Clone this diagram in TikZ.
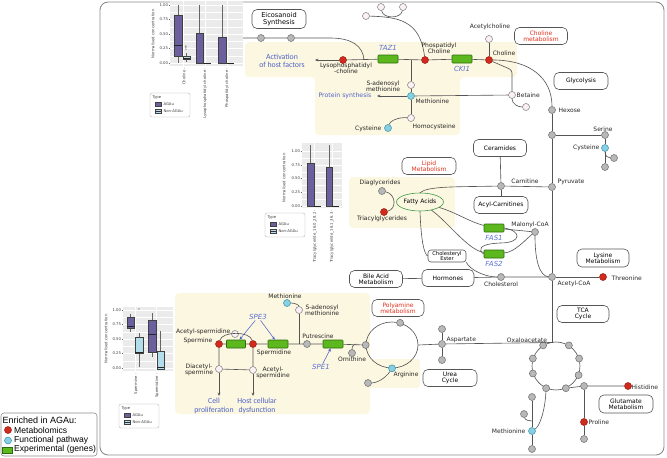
\documentclass[tikz,border=0pt]{standalone}
\usepackage{fontspec}
\setmainfont{DejaVu Sans}
\newfontfamily\libsans{Liberation Sans}
\newfontfamily\carlito{Carlito}
\usetikzlibrary{arrows.meta,shapes.geometric}
\definecolor{lncol}{HTML}{555555}
\definecolor{framecol}{HTML}{8C8C8C}
\definecolor{yel}{HTML}{FCF7E1}
\definecolor{metred}{HTML}{D22A1C}
\definecolor{metredd}{HTML}{8E1A10}
\definecolor{funcblue}{HTML}{86D0E3}
\definecolor{funcblued}{HTML}{3C8CA6}
\definecolor{pinkw}{HTML}{FAF0F5}
\definecolor{pinkd}{HTML}{7A7A7A}
\definecolor{dotgray}{HTML}{B8B8B8}
\definecolor{dotgrayd}{HTML}{6A6A6A}
\definecolor{genegreen}{HTML}{5CB81C}
\definecolor{genegreend}{HTML}{2D6A0E}
\definecolor{genelab}{HTML}{5B70D2}
\definecolor{bluelab}{HTML}{4F63C8}
\definecolor{redlab}{HTML}{E5301C}
\definecolor{fagreen}{HTML}{3E9A4A}
\definecolor{agau}{HTML}{6B5F9E}
\definecolor{nagau}{HTML}{B3DDEB}
\definecolor{panel}{HTML}{EBEBEB}
\definecolor{boxcol}{HTML}{555555}
\begin{document}
\begin{tikzpicture}[x=1pt,y=-1pt,
 ln/.style={draw=lncol,line width=0.62pt},
 arr/.style={ln,-{Stealth[length=3.4pt,width=2.8pt]}},
 barr/.style={draw=bluelab,line width=0.55pt,-{Stealth[length=3.4pt,width=2.8pt]}},
 dotbase/.style={circle,inner sep=0pt,minimum size=7pt,line width=0.5pt},
 metab/.style={dotbase,fill=metred,draw=metredd},
 func/.style={dotbase,fill=funcblue,draw=funcblued},
 pdot/.style={dotbase,fill=pinkw,draw=pinkd},
 gdot/.style={dotbase,fill=dotgray,draw=dotgrayd},
 gene/.style={rectangle,fill=genegreen,draw=genegreend,line width=0.55pt,minimum width=20pt,minimum height=8pt,inner sep=0pt,rounded corners=0.8pt},
 pbox/.style={draw=boxcol,line width=0.6pt,rounded corners=5pt,fill=white,align=center,inner sep=1pt,font=\fontsize{6}{6.4}\selectfont},
 rbox/.style={pbox,text=redlab},
 lbl/.style={font=\fontsize{6}{6.3}\selectfont,inner sep=0.5pt,align=center,text=black!85},
 gl/.style={font=\fontsize{7}{7}\selectfont\itshape,text=genelab,inner sep=0.5pt},
 bl/.style={font=\carlito\fontsize{7.8}{8.2}\selectfont,text=bluelab,align=center,inner sep=0.5pt},
 tk/.style={font=\fontsize{3.8}{4}\selectfont,inner sep=0.3pt,text=black!75},
 whisk/.style={draw=black!60,line width=0.4pt},
 bxa/.style={fill=agau,draw=black!75,line width=0.35pt},
 bxn/.style={fill=nagau,draw=black!75,line width=0.35pt},
 med/.style={draw=black!85,line width=0.7pt},
 grid/.style={draw=white,line width=0.5pt},
 lgbox/.style={draw=black!35,line width=0.3pt,rounded corners=2pt},
]
\useasboundingbox (0,0) rectangle (667,458);

% ---------- yellow regions ----------
\fill[yel,rounded corners=4pt] (245,42) -- (517,42) -- (517,77) -- (460,77) -- (460,135) -- (315,135) -- (315,77) -- (245,77) -- cycle;
\fill[yel,rounded corners=4pt] (349,177) rectangle (455,228);
\fill[yel,rounded corners=4pt] (175,293) rectangle (370,414);
\fill[yel,rounded corners=3pt] (363,359) rectangle (420,388);

% ---------- main frame ----------
\draw[framecol,line width=0.9pt,rounded corners=8pt] (100,2) rectangle (664,455);

% ---------- boxes ----------
\node[pbox,minimum width=54pt,minimum height=19pt,font=\fontsize{6.6}{7}\selectfont] (eico) at (279,19) {Eicosanoid\\Synthesis};
\node[rbox,minimum width=53pt,minimum height=17pt] (cholmet) at (541,36) {Choline\\metabolism};
\node[pbox,minimum width=54pt,minimum height=17pt] (glyc) at (581,81) {Glycolysis};
\node[pbox,minimum width=53pt,minimum height=17pt] (ceram) at (500,148) {Ceramides};
\node[pbox,minimum width=54pt,minimum height=17pt] (acyl) at (501,205) {Acyl-Carnitines};
\node[rbox,minimum width=54pt,minimum height=17pt] (lipid) at (429,166) {Lipid\\Metabolism};
\node[pbox,minimum width=38pt,minimum height=12pt,rounded corners=3pt,font=\fontsize{5.2}{5.4}\selectfont,inner sep=0.5pt] (cest) at (447,256) {Cholesteryl\\Ester};
\node[pbox,minimum width=52pt,minimum height=17pt] (horm) at (448,278) {Hormones};
\node[pbox,minimum width=53pt,minimum height=17pt] (bile) at (376,279) {Bile Acid\\Metabolism};
\node[pbox,minimum width=52pt,minimum height=18pt] (lys) at (603,258) {Lysine\\Metabolism};
\node[pbox,minimum width=52pt,minimum height=17pt] (tca) at (583,314) {TCA\\Cycle};
\node[rbox,minimum width=52pt,minimum height=17pt] (polym) at (398,308) {Polyamine\\metabolism};
\node[pbox,minimum width=54pt,minimum height=17pt] (urea) at (450,378) {Urea\\Cycle};
\node[pbox,minimum width=54pt,minimum height=18pt] (glut) at (626,404) {Glutamate\\Metabolism};

% ---------- choline section ----------
\node[gdot] (e1) at (233,38) {};
\node[gdot] (e2) at (261,38) {};
\node[gdot] (e3) at (291,38) {};
\coordinate (ebend) at (330,38);
\coordinate (j0) at (364,60);
\coordinate (actarr) at (315,60);
\coordinate (j1) at (411,60);
\coordinate (protarr) at (377,96);
\coordinate (betbend) at (512,70);
\node[metab] (lyso) at (343,60) {};
\node[gene] (taz1) at (388,59) {};
\node[metab] (pc) at (425,60) {};
\node[gene] (cki1) at (462,59) {};
\node[metab] (chol) at (489,60) {};
\node[pdot] (achol) at (489,39) {};
\node[pdot] (sam1) at (411,85) {};
\node[func] (met1) at (411,96) {};
\node[pdot] (hcy) at (411,118) {};
\node[func] (cys1) at (388,128) {};
\node[pdot] (bet) at (512,95) {};
\node[pdot] (bet2) at (526,107) {};
\node[pdot] (top1) at (366,16) {};
\node[pdot] (top2) at (381,7) {};
\node[pdot] (top3) at (403,7) {};

\draw[ln] (e1) -- (e2) -- (e3) -- (ebend) .. controls (352,38) and (363,46) .. (j0);
\draw[ln] (lyso) -- (taz1) -- (pc) -- (cki1) -- (chol);
\draw[arr] (lyso) -- (actarr);
\draw[ln] (j1) -- (sam1) -- (met1) -- (hcy);
\draw[ln] (hcy) .. controls (398,117) and (390,121) .. (cys1);
\draw[ln] (bet) -- (met1);
\draw[arr] (met1) -- (protarr);
\draw[ln] (chol) -- (achol);
\draw[ln,rounded corners=3pt] (chol) -- (betbend) -- (bet);
\draw[ln] (bet) .. controls (512,104) and (518,107) .. (bet2);
\draw[ln] (top2) .. controls (383,19) and (401,19) .. (top3);
\draw[ln] (top1) .. controls (398,17) and (420,20) .. (pc);

\node[lbl] (lysol) at (346,68.5) {Lysophosphatidyl\\-choline};
\node[gl] (taz1l) at (388,48) {TAZ1};
\node[lbl] (pcl) at (439,48.5) {Phospatidyl\\Choline};
\node[gl] (cki1l) at (462,69) {CKI1};
\node[lbl] (chll) at (504,53) {Choline};
\node[lbl] (acholl) at (490,27) {Acetylcholine};
\node[lbl] (saml) at (383,86) {S-adenosyl\\methionine};
\node[lbl,anchor=west] (met1l) at (415,101) {Methionine};
\node[lbl,anchor=west] (hcyl) at (412,127) {Homocysteine};
\node[lbl,anchor=east] (cys1l) at (382,129) {Cysteine};
\node[lbl,anchor=west] (betl) at (516,95) {Betaine};
\node[font=\fontsize{6.2}{6.4}\selectfont,text=bluelab,inner sep=0.5pt] (protl) at (345,96) {Protein synthesis};
\node[bl] (actl) at (282,61) {Activation\\of host factors};

% ---------- right column ----------
\node[gdot] (hex) at (552,110) {};
\node[gdot] (j2) at (552,135) {};
\node[gdot] (ser) at (605,135) {};
\node[func] (cys2) at (605,148) {};
\node[gdot] (c2a) at (614,158) {};
\node[gdot] (c2b) at (605,167) {};
\node[gdot] (pyr) at (552,187) {};
\node[gdot] (acoa) at (552,277) {};
\node[metab] (thr) at (603,277) {};
\coordinate (oxj) at (552,342.5);

\draw[ln] (chol) .. controls (530,60) and (552,78) .. (hex);
\draw[ln] (hex) -- (j2) -- (pyr) -- (acoa) -- (oxj);
\draw[ln] (j2) -- (ser) -- (cys2) -- (c2b);
\draw[ln] (cys2) .. controls (605,156) and (608,158) .. (c2a);
\draw[ln] (acoa) -- (thr);

\node[lbl,anchor=west] (hexl) at (558,110) {Hexose};
\node[lbl] (serl) at (603,129) {Serine};
\node[lbl,anchor=east] (cys2l) at (600,148) {Cysteine};
\node[lbl,anchor=west] (pyrl) at (557,182) {Pyruvate};
\node[lbl] (acoal) at (574,283.5) {Acetyl-CoA};
\node[lbl,anchor=west] (thrl) at (611,278) {Threonine};

% ---------- lipid section ----------
\node[gdot] (carn) at (501,186) {};
\node[ellipse,draw=fagreen,line width=0.6pt,fill=yel,minimum width=47pt,minimum height=18pt,inner sep=0pt,font=\fontsize{6}{6}\selectfont] (fa) at (420,202) {Fatty Acids};
\node[gdot] (dag) at (382,191) {};
\node[metab] (tag) at (384,212) {};
\node[gene] (fas1) at (494,228) {};
\node[gene] (fas2) at (494,254) {};
\node[gdot] (mal) at (535,232) {};
\node[gdot] (chl) at (501,277) {};
\coordinate (loopm) at (500,243);

\draw[ln] (carn) -- (pyr);
\draw[ln] (carn) -- (ceram);
\draw[ln] (carn) -- (acyl);
\draw[ln] (carn) .. controls (455,187) and (428,186) .. (fa.north);
\draw[ln] (dag) .. controls (396,194) and (397,209) .. (tag);
\draw[ln] (fa) .. controls (455,212) and (470,222) .. (fas1);
\draw[ln] (fa) .. controls (448,222) and (468,250) .. (fas2);
\draw[ln] (fas1) -- (mal);
\draw[ln] (fas2) .. controls (515,252) and (525,240) .. (mal);
\draw[ln] (fas1.east) .. controls (522,231) and (522,243) .. (loopm) .. controls (478,244) and (478,250) .. (fas2.west);
\draw[ln] (mal) .. controls (535,262) and (540,276) .. (acoa);
\draw[ln] (fa.south) .. controls (421,240) and (424,254) .. (cest.west);
\draw[ln] (cest.south east) .. controls (470,270) and (485,277) .. (chl);
\draw[ln] (bile) -- (horm);
\draw[ln] (horm) -- (chl) -- (acoa);

\node[lbl] (carnl) at (525,181) {Carnitine};
\node[lbl] (dagl) at (380,183) {Diaglycerides};
\node[lbl] (tagl) at (382,219) {Triacylglycerides};
\node[gl] (fas1l) at (494,237.5) {FAS1};
\node[gl] (fas2l) at (494,263.5) {FAS2};
\node[lbl] (mall) at (530,225) {Malonyl-CoA};
\node[lbl] (chll2) at (501,284) {Cholesterol};

% ---------- aspartate / TCA ----------
\node[gdot] (asp) at (442,344) {};
\node[gdot] (asp1) at (442,329) {};
\node[gdot] (asp2) at (442,360) {};
\node[circle,draw=lncol,line width=0.62pt,minimum size=48pt,inner sep=0pt] (tcac) at (556,366) {};
\node[gdot] (t1) at (tcac.122) {};
\node[gdot] (t2) at (tcac.58) {};
\node[gdot] (t3) at (tcac.162) {};
\node[gdot] (t4) at (tcac.18) {};
\node[gdot] (t5) at (tcac.198) {};
\node[gdot] (t6) at (tcac.338) {};
\node[gdot] (t7) at (tcac.246) {};
\node[gdot] (t8) at (tcac.294) {};
\node[gdot] (hisj) at (584,386) {};
\node[metab] (his) at (628,386) {};
\node[metab] (pro) at (584,422) {};
\node[gdot] (pro2) at (584,439) {};
\node[gdot] (m0) at (532,397) {};
\node[gdot] (mside) at (524,414) {};
\node[func] (met3) at (532,431) {};
\node[gdot] (m4) at (532,449) {};
\coordinate (mj) at (532,421);

\draw[ln] (asp1) -- (asp) -- (asp2);
\draw[ln] (asp) -- (oxj);
\draw[ln] (t8) -- (hisj) -- (his);
\draw[ln] (hisj) -- (pro) -- (pro2);
\draw[ln] (m0) -- (met3) -- (m4);
\draw[ln] (mside) .. controls (525,420) and (529,421) .. (mj);
\draw[ln] (t7) .. controls (545,410) and (540,426) .. (met3);

\node[lbl,anchor=west] (aspl) at (446,340) {Aspartate};
\node[lbl] (oxl) at (527,340) {Oxaloacetate};
\node[lbl,anchor=west] (hisl) at (631,387) {Histidine};
\node[lbl,anchor=west] (prol) at (588,422) {Proline};
\node[lbl,anchor=east] (met3l) at (526,431) {Methionine};

% ---------- polyamine section ----------
\node[ellipse,draw=lncol,line width=0.62pt,minimum width=52pt,minimum height=46pt,inner sep=0pt] (uc) at (392,345) {};
\node[gdot] (ucl) at (uc.180) {};
\node[gdot] (uct) at (uc.70) {};
\node[func] (arg) at (uc.270) {};
\coordinate (ucr) at (uc.0);
\node[gdot] (argx) at (368,383) {};
\node[metab] (spm) at (219,344) {};
\node[gene,minimum width=19pt] (g1) at (236,344) {};
\node[metab] (spd) at (253,344) {};
\node[gene] (g2) at (278,344) {};
\coordinate (pj) at (299,344);
\node[gdot] (put) at (307,344) {};
\node[gene] (g3) at (333,344) {};
\coordinate (oj) at (356,344);
\node[gdot] (orn) at (352,353) {};
\node[pdot] (acspd1) at (235,334) {};
\node[pdot] (sam2) at (299,310) {};
\node[func] (met2) at (287,303) {};
\node[pdot] (dac) at (219,369) {};
\node[pdot] (acspd2) at (253,370) {};
\coordinate (cellarr) at (219,396);
\coordinate (hostarr) at (253,396);

\draw[ln] (spm) -- (g1) -- (spd) -- (g2) -- (pj) -- (put) -- (g3) -- (ucl);
\draw[ln] (orn) .. controls (352,346) and (354,344) .. (oj);
\draw[ln] (spm) .. controls (222,331) and (250,331) .. (spd);
\draw[ln] (pj) -- (sam2);
\draw[ln] (met2) .. controls (295,303) and (299,305) .. (sam2);
\draw[ln] (spm) -- (dac) -- (acspd2) -- (spd);
\draw[arr] (dac) -- (cellarr);
\draw[arr] (acspd2) -- (hostarr);
\draw[ln] (arg) .. controls (385,379) and (376,383) .. (argx);
\draw[ln] (ucr) -- (asp);

\node[gl] (spe3) at (258,317) {SPE3};
\node[gl] (spe1) at (321,367) {SPE1};
\draw[barr] (spe3) -- (g1);
\draw[barr] (spe3) -- (g2);
\draw[barr] (spe1) -- (g3);

\node[lbl,anchor=east] (acspd1l) at (231,332) {Acetyl-spermidine};
\node[lbl,anchor=east] (spml) at (213,341) {Spermine};
\node[lbl] (spdl) at (274,352.5) {Spermidine};
\node[lbl] (met2l) at (285,296) {Methionine};
\node[lbl] (sam2l) at (322,310) {S-adenosyl\\methionine};
\node[lbl] (putl) at (318,336) {Putrescine};
\node[lbl] (ornl) at (352,359) {Ornithine};
\node[lbl] (argl) at (406,375) {Arginine};
\node[lbl] (dacl) at (199,369.5) {Diacetyl-\\spermine};
\node[lbl] (acspd2l) at (273,373) {Acetyl-\\spermidine};
\node[bl] (celll) at (214,406) {Cell\\proliferation};
\node[bl] (hostl) at (257,406) {Host cellular\\dysfunction};

% ---------- chart 1 (choline) ----------
\fill[panel] (170,1) rectangle (243,66);
\foreach \v in {0.125,0.375,0.625,0.875} \draw[draw=white,line width=0.25pt] (170,{63-58*\v}) -- (243,{63-58*\v});
\foreach \v in {0,0.25,0.5,0.75,1} \draw[grid] (170,{63-58*\v}) -- (243,{63-58*\v});
\foreach \x in {183,205,227} \draw[grid] (\x,1) -- (\x,66);
\foreach \v/\t [count=\i] in {0/0.00,0.25/0.25,0.5/0.50,0.75/0.75,1/1.00} {
  \node[tk,anchor=east] (c1tick\i) at (168.5,{63-58*\v}) {\t};
  \draw[black!60,line width=0.3pt] (168.7,{63-58*\v}) -- (170,{63-58*\v});
}
\node[tk,rotate=90] (c1title) at (153,34) {Normalised concentration};
\draw[whisk] (178,5) -- (178,63);
\filldraw[bxa] (174,15.4) rectangle (182,56);
\draw[med] (174,45) -- (182,45);
\draw[whisk] (186.5,53) -- (186.5,62);
\filldraw[bxn] (183,56) rectangle (190,59.5);
\draw[med] (183,58) -- (190,58);
\node[tk,rotate=90] (c1star) at (186.5,48) {***};
\draw[whisk] (199.5,5) -- (199.5,63);
\filldraw[bxa] (196,33) rectangle (203,63);
\draw[med] (204,63) -- (211,63);
\draw[whisk] (222,5) -- (222,63);
\filldraw[bxa] (218,37) rectangle (226,63);
\draw[med] (227,63) -- (234,63);
\node[tk,rotate=90,anchor=east] (c1x1) at (184,67.5) {Choline -};
\node[tk,rotate=90,anchor=east] (c1x2) at (205,67.5) {Lysophosphatidyl choline -};
\node[tk,rotate=90,anchor=east] (c1x3) at (227,67.5) {Phospatidyl choline -};
\draw[lgbox] (150,93) rectangle (190,117);
\node[tk,anchor=west] (c1lt) at (152,97.5) {Type};
\filldraw[bxa] (155,102) rectangle (161,106);
\node[tk,anchor=west] (c1la) at (163,104) {AGAu};
\filldraw[bxn] (155,109) rectangle (161,113);
\draw[black!80,line width=0.4pt] (155,111) -- (161,111);
\node[tk,anchor=west] (c1ln) at (163,111) {Non-AGAu};

% ---------- chart 2 (triacylglycerides) ----------
\fill[panel] (302,143) rectangle (342,208);
\foreach \v in {0.125,0.375,0.625,0.875} \draw[draw=white,line width=0.25pt] (302,{206-55*\v}) -- (342,{206-55*\v});
\foreach \v in {0,0.25,0.5,0.75,1} \draw[grid] (302,{206-55*\v}) -- (342,{206-55*\v});
\foreach \x in {314,332} \draw[grid] (\x,143) -- (\x,208);
\foreach \v/\t [count=\i] in {0/0.00,0.25/0.25,0.5/0.50,0.75/0.75,1/1.00} {
  \node[tk,anchor=east] (c2tick\i) at (300.5,{206-55*\v}) {\t};
  \draw[black!60,line width=0.3pt] (300.7,{206-55*\v}) -- (302,{206-55*\v});
}
\node[tk,rotate=90] (c2title) at (284,178) {Normalised concentration};
\draw[whisk] (310.5,145) -- (310.5,163.6);
\filldraw[bxa] (307,163.6) rectangle (314,206);
\draw[med] (314,206) -- (321,206);
\draw[whisk] (329,145) -- (329,167);
\filldraw[bxa] (326,167) rectangle (332,206);
\draw[med] (332,206) -- (339,206);
\node[tk,rotate=90,anchor=east] (c2x1) at (315,209.5) {Triacylglyceride\_16.0\_28.2 -};
\node[tk,rotate=90,anchor=east] (c2x2) at (332,209.5) {Triacylglyceride\_16.1\_36.3 -};
\draw[lgbox] (265,213) rectangle (305,237);
\node[tk,anchor=west] (c2lt) at (267,217.5) {Type};
\filldraw[bxa] (270,222) rectangle (276,226);
\node[tk,anchor=west] (c2la) at (278,224) {AGAu};
\filldraw[bxn] (270,229) rectangle (276,233);
\draw[black!80,line width=0.4pt] (270,231) -- (276,231);
\node[tk,anchor=west] (c2ln) at (278,231) {Non-AGAu};

% ---------- chart 3 (polyamines) ----------
\fill[panel] (123,307) rectangle (173,371);
\foreach \v in {0.125,0.375,0.625,0.875} \draw[draw=white,line width=0.25pt] (123,{368-58*\v}) -- (173,{368-58*\v});
\foreach \v in {0,0.25,0.5,0.75,1} \draw[grid] (123,{368-58*\v}) -- (173,{368-58*\v});
\foreach \x in {135,156} \draw[grid] (\x,307) -- (\x,371);
\foreach \v/\t [count=\i] in {0/0.00,0.25/0.25,0.5/0.50,0.75/0.75,1/1.00} {
  \node[tk,anchor=east] (c3tick\i) at (121.5,{368-58*\v}) {\t};
  \draw[black!60,line width=0.3pt] (121.7,{368-58*\v}) -- (123,{368-58*\v});
}
\node[tk,rotate=90] (c3title) at (106,339) {Normalised concentration};
\draw[whisk] (130.5,314) -- (130.5,332);
\filldraw[bxa] (127,317) rectangle (134,328);
\draw[med] (127,326) -- (134,326);
\draw[whisk] (139,333) -- (139,367);
\filldraw[bxn] (135,337) rectangle (143,353);
\draw[med] (135,352) -- (143,352);
\node[tk] (c3star) at (139,310) {*};
\draw[whisk] (152,313) -- (152,357);
\filldraw[bxa] (148,320) rectangle (156,352);
\draw[med] (148,334) -- (156,334);
\draw[whisk] (160.5,331) -- (160.5,369);
\filldraw[bxn] (157,351) rectangle (164,369);
\draw[med] (157,367) -- (164,367);
\node[tk,rotate=90,anchor=east] (c3x1) at (136,373) {Spermine -};
\node[tk,rotate=90,anchor=east] (c3x2) at (157,373) {Spermidine -};
\draw[lgbox] (119,404) rectangle (159,428);
\node[tk,anchor=west] (c3lt) at (121,408.5) {Type};
\filldraw[bxa] (124,413) rectangle (130,417);
\node[tk,anchor=west] (c3la) at (132,415) {AGAu};
\filldraw[bxn] (124,420) rectangle (130,424);
\draw[black!80,line width=0.4pt] (124,422) -- (130,422);
\node[tk,anchor=west] (c3ln) at (132,422) {Non-AGAu};

% ---------- legend ----------
\draw[framecol,line width=0.6pt,rounded corners=3pt] (1,413) rectangle (97,456);
\node[font=\libsans\fontsize{9}{9}\selectfont,anchor=west,inner sep=0pt] (enr) at (2.5,420) {Enriched in AGAu:};
\node[metab,minimum size=7pt] (lgm) at (8,430) {};
\node[font=\libsans\fontsize{8.6}{8.6}\selectfont,anchor=west,inner sep=0pt] (lgmt) at (14,430) {Metabolomics};
\node[func,minimum size=7pt] (lgf) at (8,440.5) {};
\node[font=\libsans\fontsize{8.6}{8.6}\selectfont,anchor=west,inner sep=0pt] (lgft) at (14,440) {Functional pathway};
\node[gene,minimum width=10pt,minimum height=6pt,rounded corners=0pt] (lgg) at (7,450) {};
\node[font=\libsans\fontsize{8.6}{8.6}\selectfont,anchor=west,inner sep=0pt] (lggt) at (14,449.5) {Experimental (genes)};
\end{tikzpicture}
\end{document}
